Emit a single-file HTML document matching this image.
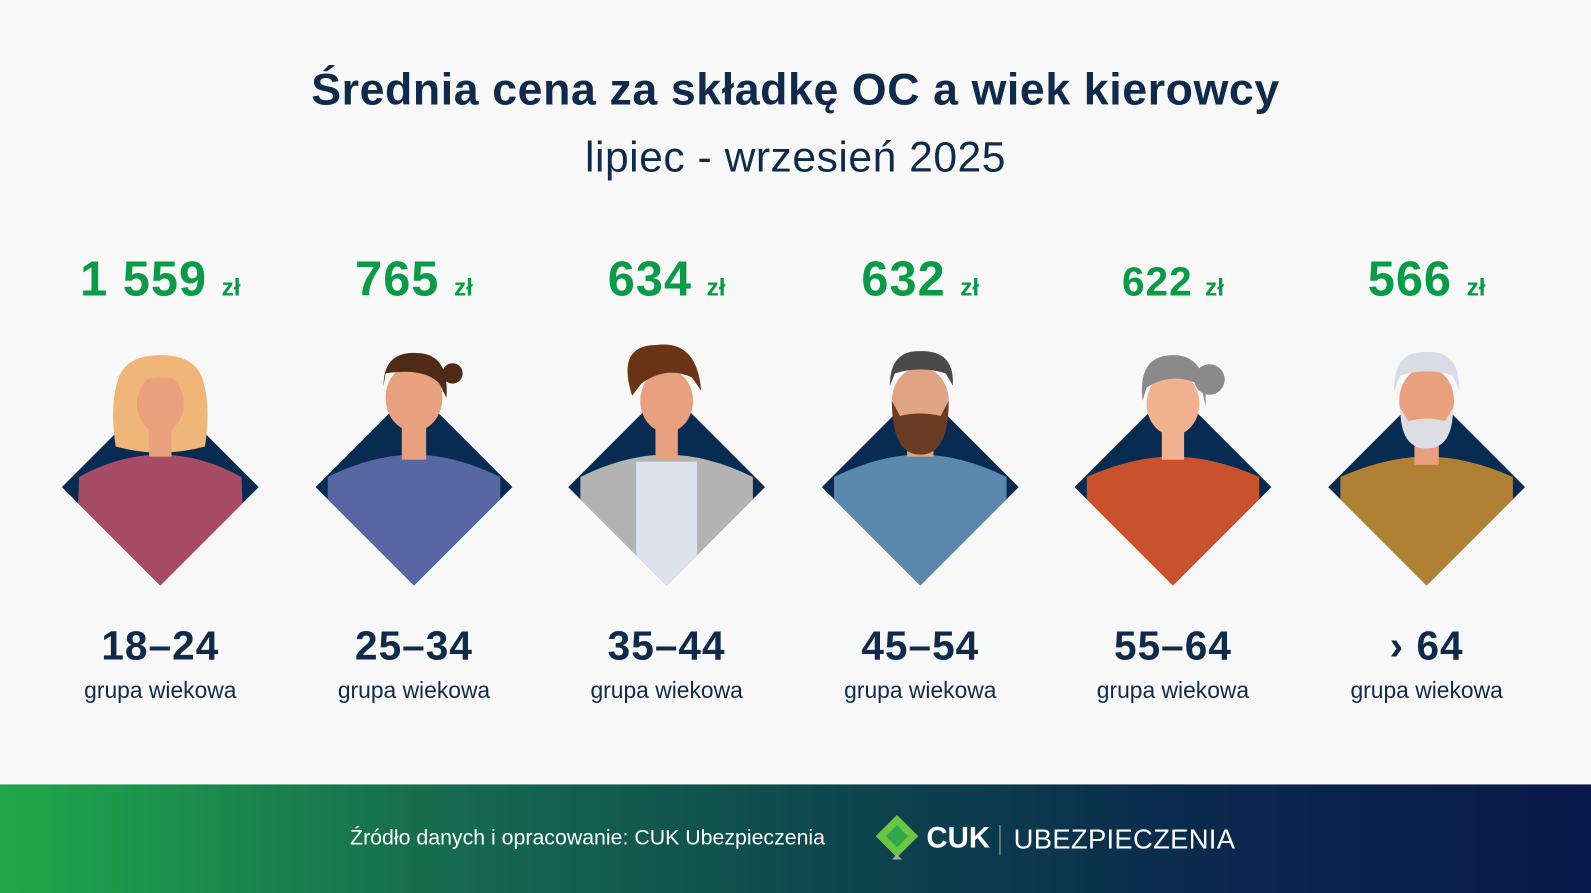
<!DOCTYPE html>
<html><head><meta charset="utf-8"><style>
html,body{margin:0;padding:0;background:#f8f8f8;overflow:hidden}
#w{width:1568px;height:880px;position:relative;transform:scale(1.01467,1.01477);transform-origin:0 0;background:#f8f8f8;font-family:"Liberation Sans",sans-serif}
.t{position:absolute;left:0;width:1568px;text-align:center;color:#0f2a4a}
.p{position:absolute;top:248px;width:250px;text-align:center;color:#0a9a48;font-weight:bold;font-size:48px;letter-spacing:1px}
.p small{font-size:24px;letter-spacing:0}
.a{position:absolute;top:615px;width:250px;text-align:center;color:#0f2a4a;font-weight:bold;font-size:40px;letter-spacing:1px}
.g{position:absolute;top:668px;width:250px;text-align:center;color:#0f2a4a;font-size:22.5px}
#f{position:absolute;left:0;top:773px;width:1568px;height:107px;background:linear-gradient(90deg,#1fa84a 0%,#17704f 25%,#0e4a4d 50%,#0a2a4d 75%,#0a1a4c 100%)}
</style></head><body><div id="w">
<div class="t" style="top:64px;font-size:44px;font-weight:bold;letter-spacing:0.6px">Średnia cena za składkę OC a wiek kierowcy</div>
<div class="t" style="top:131px;font-size:42px;letter-spacing:0.5px">lipiec - wrzesień 2025</div>

<div class="p" style="left:33px">1 559 <small>zł</small></div>
<div class="p" style="left:283px">765 <small>zł</small></div>
<div class="p" style="left:532px">634 <small>zł</small></div>
<div class="p" style="left:782px">632 <small>zł</small></div>
<div class="p" style="left:1031px;font-size:40px;top:256px">622 <small>zł</small></div>
<div class="p" style="left:1281px">566 <small>zł</small></div>

<svg width="1568" height="880" style="position:absolute;left:0;top:0">
<defs><clipPath id="d" clipPathUnits="userSpaceOnUse"><polygon points="0,383 97,480 0,577 -97,480"/></clipPath></defs>
<g transform="translate(158,0)">
<polygon points="0,383 97,480 0,577 -97,480" fill="#082b52"/>
<path d="M-44,440 Q-50,400 -42,375 Q-35,350 0,350 Q35,350 42,375 Q50,400 44,440 Q0,452 -44,440Z" fill="#f0b677"/>
<g clip-path="url(#d)"><path d="M-80,470 Q-40,448 0,448 Q40,448 80,470 L85,600 L-85,600Z" fill="#a64c66"/></g>
<rect x="-11" y="415" width="22" height="35" fill="#e8a07f"/>
<ellipse cx="0" cy="398" rx="23" ry="29" fill="#e8a07f"/>
<path d="M-26,390 Q-25,362 0,362 Q25,362 26,390 L20,376 Q0,368 -20,376Z" fill="#f0b677"/>
</g>
<g transform="translate(408,0)">
<polygon points="0,383 97,480 0,577 -97,480" fill="#082b52"/>
<g clip-path="url(#d)"><path d="M-85,470 Q-40,448 0,448 Q40,448 85,470 L85,600 L-85,600Z" fill="#5767a3"/></g>
<rect x="-12" y="415" width="24" height="38" fill="#e8a07f"/>
<ellipse cx="0" cy="392" rx="28" ry="33" fill="#e8a07f"/>
<path d="M-30,380 Q-30,345 5,348 Q35,350 32,392 L25,378 Q10,362 -28,368Z" fill="#4f2a17"/>
<circle cx="38" cy="368" r="10" fill="#4f2a17"/>
</g>
<g transform="translate(657,0)">
<polygon points="0,383 97,480 0,577 -97,480" fill="#082b52"/>
<g clip-path="url(#d)"><path d="M-85,470 Q-40,448 0,448 Q40,448 85,470 L85,600 L-85,600Z" fill="#b3b3b3"/><rect x="-30" y="455" width="60" height="130" fill="#dde2ec"/></g>
<rect x="-11" y="418" width="22" height="35" fill="#e8a07f"/>
<ellipse cx="0" cy="395" rx="26" ry="31" fill="#e8a07f"/>
<path d="M-34,390 Q-50,340 -10,340 Q30,335 34,385 L25,372 Q0,360 -25,378Z" fill="#6b3416"/>
</g>
<g transform="translate(907,0)">
<polygon points="0,383 97,480 0,577 -97,480" fill="#082b52"/>
<g clip-path="url(#d)"><path d="M-85,470 Q-40,448 0,448 Q40,448 85,470 L85,600 L-85,600Z" fill="#5b88ad"/></g>
<rect x="-13" y="420" width="26" height="30" fill="#e0a383"/>
<ellipse cx="0" cy="395" rx="28" ry="33" fill="#e0a383"/>
<path d="M-28,395 Q-28,448 0,448 Q28,448 28,395 L20,410 Q0,405 -20,410Z" fill="#6b3c24"/>
<path d="M-30,380 Q-30,345 0,346 Q34,345 32,380 L25,368 Q0,360 -25,368Z" fill="#4a4a4a"/>
</g>
<g transform="translate(1156,0)">
<polygon points="0,383 97,480 0,577 -97,480" fill="#082b52"/>
<g clip-path="url(#d)"><path d="M-85,470 Q-40,450 0,450 Q40,450 85,470 L85,600 L-85,600Z" fill="#c9512c"/></g>
<rect x="-11" y="418" width="22" height="35" fill="#f2b28f"/>
<ellipse cx="0" cy="398" rx="26" ry="31" fill="#f2b28f"/>
<path d="M-30,395 Q-35,350 0,350 Q35,350 32,400 L28,380 Q0,365 -26,382Z" fill="#8a8a8a"/>
<circle cx="36" cy="374" r="15" fill="#8a8a8a"/>
</g>
<g transform="translate(1406,0)">
<polygon points="0,383 97,480 0,577 -97,480" fill="#082b52"/>
<g clip-path="url(#d)"><path d="M-85,470 Q-40,450 0,450 Q40,450 85,470 L85,600 L-85,600Z" fill="#b08035"/></g>
<rect x="-12" y="420" width="24" height="38" fill="#e8a07f"/>
<ellipse cx="0" cy="395" rx="27" ry="33" fill="#e8a07f"/>
<path d="M-26,402 Q-26,442 0,442 Q26,442 26,402 L18,415 Q0,410 -18,415Z" fill="#dcdde5"/>
<path d="M-32,385 Q-33,345 0,347 Q33,345 32,385 L26,370 Q0,362 -26,370Z" fill="#d9dbe6"/>
</g>
</svg>

<div class="a" style="left:33px">18–24</div><div class="g" style="left:33px">grupa wiekowa</div>
<div class="a" style="left:283px">25–34</div><div class="g" style="left:283px">grupa wiekowa</div>
<div class="a" style="left:532px">35–44</div><div class="g" style="left:532px">grupa wiekowa</div>
<div class="a" style="left:782px">45–54</div><div class="g" style="left:782px">grupa wiekowa</div>
<div class="a" style="left:1031px">55–64</div><div class="g" style="left:1031px">grupa wiekowa</div>
<div class="a" style="left:1281px">› 64</div><div class="g" style="left:1281px">grupa wiekowa</div>

<div id="f">
<div style="position:absolute;left:345px;top:41px;color:#fff;font-size:21px">Źródło danych i opracowanie: CUK Ubezpieczenia</div>
<svg width="50" height="50" style="position:absolute;left:862px;top:28px"><polygon points="22,2 43,23 22,44 1,23" fill="#6cc644"/><polygon points="22,12 33,23 22,34 11,23" fill="#2ea84a"/><polygon points="17,46 27,46 22,41" fill="#aaa"/></svg>
<div style="position:absolute;left:913px;top:37px;color:#fff;font-size:29px;font-weight:bold">CUK</div>
<div style="position:absolute;left:985px;top:40px;width:1px;height:30px;background:#aaa"></div>
<div style="position:absolute;left:999px;top:39px;color:#fff;font-size:27px;letter-spacing:0.3px">UBEZPIECZENIA</div>
</div>
</div></body></html>
